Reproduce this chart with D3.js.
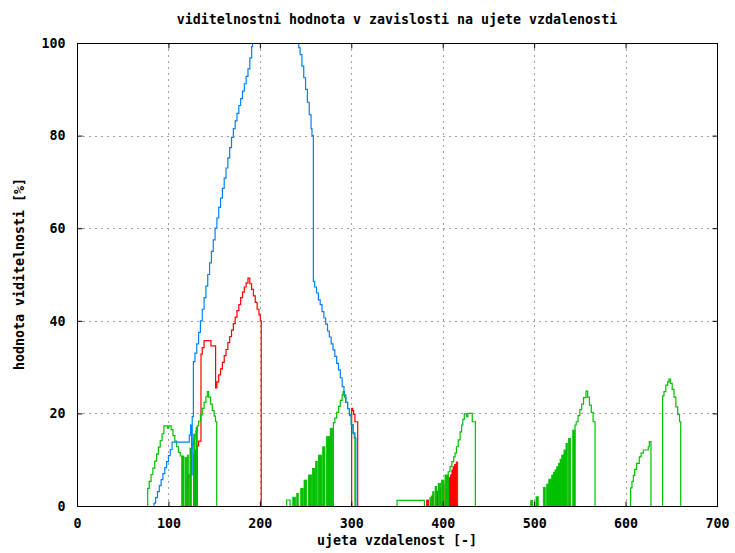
<!DOCTYPE html>
<html>
<head>
<meta charset="utf-8">
<script src="https://cdn.jsdelivr.net/npm/d3@7/dist/d3.min.js"></script>
<style>
    body { margin: 0; background: #ffffff; }
    text { font-family: "DejaVu Sans Mono", monospace; font-weight: bold; font-size: 13.3px; fill: #000; }
</style>
</head>
<body>
<div id="mainDiv"></div>
<script>
// ticks
var xTicks = [ 0, 100, 200, 300, 400, 500, 600, 700 ];
var yTicks = [ 0, 20, 40, 60, 80, 100 ];

// step segments [distance, value], each one rises from 0 at its first x
var redSteps = [
    [ [ 120.5, 5.5 ], [ 121.5, 6.8 ], [ 122.5, 0 ] ],
    [ [ 127.5, 11 ], [ 128.5, 12 ], [ 129.5, 0 ] ],
    [ [ 131.5, 13 ], [ 133, 14 ], [ 135.6, 32.8 ], [ 137, 34.2 ], [ 139, 35.7 ], [ 146.5, 34.6 ], [ 151.6, 25.5 ],
      [ 153, 26.8 ], [ 155, 28.3 ], [ 157, 29.6 ], [ 159, 31 ], [ 161, 32.5 ], [ 163, 33.8 ], [ 165, 35.3 ],
      [ 167, 36.6 ], [ 169, 38 ], [ 171, 39.4 ], [ 173, 40.8 ], [ 175, 42.2 ], [ 177, 43.5 ], [ 179, 45 ],
      [ 181, 46.2 ], [ 183, 47.3 ], [ 185, 48.2 ], [ 187, 49.2 ], [ 189, 48 ], [ 191, 46.8 ], [ 193, 45.4 ],
      [ 195, 44 ], [ 197, 42.5 ], [ 199, 41.3 ], [ 200.5, 40 ], [ 201.5, 0 ] ],
    [ [ 300.4, 21.1 ], [ 301.5, 20.6 ], [ 302.5, 19.8 ], [ 304, 18.2 ], [ 307, 0 ] ]
];
// narrow spikes down to 0 [from, to, value]
var redBars = [
    [ 382.4, 384.6, 1.3 ], [ 388, 389.6, 2.2 ], [ 393, 394.6, 3.2 ], [ 396.5, 398, 3.8 ], [ 400, 401.5, 4.6 ],
    [ 403.5, 405, 5.2 ], [ 406, 407, 5.6 ], [ 407, 408.5, 6.2 ], [ 408.5, 410, 6.7 ], [ 410, 411.3, 7.8 ],
    [ 411.3, 413, 8.5 ], [ 413, 414.7, 9.0 ], [ 414.7, 416.4, 9.5 ]
];

var greenSteps = [
    [ [ 77.3, 3.8 ], [ 79, 5.3 ], [ 81, 6.8 ], [ 83, 8.2 ], [ 85, 9.7 ], [ 87, 11.2 ], [ 89, 12.7 ], [ 91, 14.1 ],
      [ 93, 15.6 ], [ 95, 17.3 ], [ 99, 16.8 ], [ 100.5, 17.3 ], [ 103, 16.5 ], [ 105, 15.2 ], [ 107, 14 ],
      [ 109, 12.8 ], [ 111, 11.6 ], [ 113, 10.8 ], [ 114.8, 0 ] ],
    [ [ 124.5, 12.4 ], [ 126, 13.4 ], [ 127.6, 14.5 ], [ 129, 15.5 ], [ 130.2, 16.3 ], [ 131.6, 17.3 ], [ 133, 18.3 ],
      [ 135, 19.7 ], [ 137, 21.1 ], [ 139, 22.4 ], [ 141, 23.6 ], [ 142.5, 24.7 ], [ 144, 23.5 ], [ 146, 22 ],
      [ 148, 20.6 ], [ 150, 19.4 ], [ 151.5, 18.2 ], [ 152.8, 0 ] ],
    [ [ 229.3, 1.3 ], [ 233, 0 ] ],
    [ [ 280.4, 18 ], [ 282, 19 ], [ 284, 20.2 ], [ 286, 21.5 ], [ 288, 22.8 ], [ 290, 24 ], [ 291, 24.7 ],
      [ 292.5, 23.5 ], [ 294, 22.4 ], [ 296, 21 ], [ 298, 19.5 ], [ 300, 17.5 ], [ 302, 15.6 ], [ 303.3, 14.7 ],
      [ 304, 0 ] ],
    [ [ 350, 1.2 ], [ 380, 0 ] ],
    [ [ 406, 7.4 ], [ 408, 8.5 ], [ 410, 9.6 ], [ 412, 10.6 ], [ 413.5, 11.4 ], [ 415, 12.8 ], [ 417, 14.3 ],
      [ 419, 16 ], [ 420.7, 17.5 ], [ 422, 18.7 ], [ 423.6, 19.9 ], [ 426, 19.3 ], [ 427.5, 20 ], [ 432.3, 18.2 ],
      [ 435.7, 0 ] ],
    [ [ 544.7, 17.5 ], [ 546, 18.2 ], [ 548, 19.5 ], [ 550, 20.8 ], [ 552, 22 ], [ 554, 23.4 ], [ 556.7, 24.8 ],
      [ 558.5, 23.5 ], [ 560.5, 21.8 ], [ 562.5, 20.2 ], [ 564.5, 18.2 ], [ 566.6, 0 ] ],
    [ [ 605.5, 3.9 ], [ 607, 5.3 ], [ 608.5, 6.6 ], [ 610, 7.9 ], [ 612, 9.2 ], [ 615, 10.6 ], [ 617, 11.4 ],
      [ 619.4, 12.1 ], [ 624.8, 12.8 ], [ 626, 13.9 ], [ 627.8, 0 ] ],
    [ [ 640.5, 23.8 ], [ 642, 24.7 ], [ 644, 26.1 ], [ 646, 26.8 ], [ 647.5, 27.4 ], [ 649, 26.5 ], [ 651, 25.2 ],
      [ 653, 23.5 ], [ 655, 21.4 ], [ 657, 19.8 ], [ 659, 18.2 ], [ 660.3, 0 ] ]
];
var greenBars = [
    [ 114.8, 117, 10.8 ], [ 118.2, 119.8, 10.5 ], [ 120.5, 121.8, 11 ], [ 123.5, 125, 12.5 ], [ 127.6, 129, 15.5 ],
    [ 130.2, 131.6, 17 ],
    [ 236, 239, 1.9 ], [ 240.3, 242, 2.7 ], [ 244.7, 247.5, 3.8 ], [ 248.3, 251.2, 5.6 ], [ 253, 256.7, 6.7 ],
    [ 257.4, 260.3, 8.1 ], [ 261, 262.8, 9.6 ], [ 264, 267.6, 11 ], [ 268.7, 271.2, 12.8 ], [ 273, 276.7, 15 ],
    [ 276.9, 279.6, 16.8 ],
    [ 386, 388, 1.9 ], [ 389, 390.5, 3.1 ], [ 391.6, 393.4, 4.2 ], [ 395, 397.7, 4.9 ], [ 398.8, 401.4, 5.6 ],
    [ 402.5, 406, 6.7 ],
    [ 496.2, 498.4, 1.2 ], [ 502, 504.5, 2 ], [ 510, 512.2, 4 ], [ 513.7, 516, 4.75 ], [ 516, 519.2, 5.8 ],
    [ 519.2, 521, 6.7 ], [ 521, 522.8, 7.3 ], [ 522.8, 524.6, 7.8 ], [ 524.6, 526.5, 8.5 ], [ 526.5, 528.3, 9.2 ],
    [ 528.3, 530.1, 10.1 ], [ 530.1, 532.6, 11 ], [ 532.6, 534.8, 12.1 ], [ 534.8, 536.3, 13.5 ],
    [ 537.4, 540, 14.6 ], [ 542.2, 544.7, 16.4 ]
];

var blueSteps = [
    [ [ 84.2, 0.6 ], [ 86, 1.8 ], [ 88, 3.1 ], [ 90, 4.4 ], [ 92, 5.7 ], [ 94, 7 ], [ 96, 8.3 ], [ 98, 9.6 ],
      [ 100, 10.9 ], [ 102, 12.2 ], [ 104, 13.8 ], [ 122.8, 15.3 ], [ 124.3, 17.5 ], [ 125.3, 6.7 ], [ 126, 19.3 ],
      [ 127.3, 31.2 ], [ 129, 33 ], [ 131, 35 ], [ 133, 37.5 ], [ 135, 40 ], [ 137, 42.5 ], [ 139, 45 ],
      [ 141, 47.5 ], [ 143, 50 ], [ 145, 52.5 ], [ 147, 55 ], [ 149, 57.5 ], [ 151, 60 ], [ 153, 62.2 ],
      [ 155, 64.5 ], [ 157, 66.5 ], [ 159, 68.6 ], [ 161, 70.8 ], [ 163, 73 ], [ 165, 75.2 ], [ 167, 77.4 ],
      [ 169, 79.6 ], [ 171, 81.5 ], [ 173, 83.2 ], [ 175, 84.8 ], [ 177, 86.5 ], [ 179, 88 ], [ 181, 89.6 ],
      [ 183, 91.2 ], [ 185, 92.8 ], [ 187, 94.4 ], [ 189, 96.8 ], [ 191, 99.2 ], [ 192, 103 ], [ 242.5, 99 ],
      [ 244, 97.5 ], [ 246, 95 ], [ 248, 92.5 ], [ 250, 90 ], [ 252, 87.2 ], [ 254, 84.5 ], [ 256, 81.5 ],
      [ 257, 80 ], [ 258.5, 48.5 ], [ 260, 47.3 ], [ 262, 46 ], [ 264, 44.5 ], [ 266, 43.5 ], [ 268, 42 ],
      [ 270, 40.6 ], [ 272, 39.3 ], [ 274, 37.8 ], [ 276, 36.5 ], [ 278, 35 ], [ 280, 33.7 ], [ 282, 32.3 ],
      [ 284, 30.8 ], [ 286, 29.4 ], [ 288, 27.7 ], [ 290, 25.8 ], [ 292, 24 ], [ 294, 22.4 ], [ 296, 21 ],
      [ 298, 19.8 ], [ 300, 17.6 ], [ 302, 15.8 ], [ 304, 14.7 ], [ 305, 0 ] ]
];

var VisChart = VisChart || {};

VisChart.main = function () {

    var _width = 735, _height = 553,
        _left = 77, _right = 717, _top = 43, _bottom = 506,
        _svg, _plot,
        _x = d3.scaleLinear().domain( [ 0, 700 ] ).range( [ _left, _right ] ),
        _y = d3.scaleLinear().domain( [ 0, 100 ] ).range( [ _bottom, _top ] ),
        _line = d3.line()
            .x( function ( d ) { return _x( d[ 0 ] ); } )
            .y( function ( d ) { return _y( d[ 1 ] ); } )
            .curve( d3.curveStepAfter ),
        _drawSeries = function ( steps, bars, colour ) {
            _plot.append( 'g' )
                .selectAll( 'rect' )
                .data( bars )
                .enter()
                .append( 'rect' )
                .attr( 'x', function ( d ) { return _x( d[ 0 ] ); } )
                .attr( 'y', function ( d ) { return _y( d[ 2 ] ); } )
                .attr( 'width', function ( d ) { return _x( d[ 1 ] ) - _x( d[ 0 ] ); } )
                .attr( 'height', function ( d ) { return _y( 0 ) - _y( d[ 2 ] ); } )
                .attr( 'fill', colour )
                .attr( 'stroke', colour )
                .attr( 'stroke-width', 0.8 );
            _plot.append( 'g' )
                .selectAll( 'path' )
                .data( steps )
                .enter()
                .append( 'path' )
                .attr( 'd', function ( seg ) { return _line( [ [ seg[ 0 ][ 0 ], 0 ] ].concat( seg ) ); } )
                .attr( 'fill', 'none' )
                .attr( 'stroke', colour )
                .attr( 'stroke-width', 1.2 );
        };

    _svg = d3.select( '#mainDiv' )
        .append( 'svg' )
        .attr( 'width', _width )
        .attr( 'height', _height );

    _svg.append( 'defs' )
        .append( 'clipPath' )
        .attr( 'id', 'plotClip' )
        .append( 'rect' )
        .attr( 'x', _left )
        .attr( 'y', _top )
        .attr( 'width', _right - _left )
        .attr( 'height', _bottom - _top );

    // grid
    var grid = _svg.append( 'g' ).attr( 'stroke', '#a0a0a0' ).attr( 'stroke-width', 1 ).attr( 'stroke-dasharray', '2,4' );
    grid.selectAll( 'line.gx' )
        .data( xTicks.slice( 1, -1 ) )
        .enter()
        .append( 'line' )
        .attr( 'x1', function ( d ) { return Math.round( _x( d ) ) + 0.5; } )
        .attr( 'x2', function ( d ) { return Math.round( _x( d ) ) + 0.5; } )
        .attr( 'y1', _top )
        .attr( 'y2', _bottom );
    grid.selectAll( 'line.gy' )
        .data( yTicks.slice( 1, -1 ) )
        .enter()
        .append( 'line' )
        .attr( 'x1', _left )
        .attr( 'x2', _right )
        .attr( 'y1', function ( d ) { return Math.round( _y( d ) ) + 0.5; } )
        .attr( 'y2', function ( d ) { return Math.round( _y( d ) ) + 0.5; } );

    _plot = _svg.append( 'g' ).attr( 'clip-path', 'url(#plotClip)' );

    _drawSeries( redSteps, redBars, '#ff0000' );
    _drawSeries( greenSteps, greenBars, '#00c000' );
    _drawSeries( blueSteps, [], '#0080ff' );

    // border + inward ticks on all sides
    _svg.append( 'rect' )
        .attr( 'x', _left + 0.5 )
        .attr( 'y', _top + 0.5 )
        .attr( 'width', _right - _left )
        .attr( 'height', _bottom - _top )
        .attr( 'fill', 'none' )
        .attr( 'stroke', '#000' )
        .attr( 'stroke-width', 1 );

    var xAxisB = d3.axisBottom( _x ).tickValues( xTicks ).tickSizeInner( -5 ).tickSizeOuter( 0 ).tickPadding( 12 ),
        xAxisT = d3.axisTop( _x ).tickValues( xTicks ).tickSizeInner( -5 ).tickSizeOuter( 0 ).tickFormat( '' ),
        yAxisL = d3.axisLeft( _y ).tickValues( yTicks ).tickSizeInner( -5 ).tickSizeOuter( 0 ).tickPadding( 12 ),
        yAxisR = d3.axisRight( _y ).tickValues( yTicks ).tickSizeInner( -5 ).tickSizeOuter( 0 ).tickFormat( '' );

    [ [ xAxisB, 'translate(0,' + ( _bottom + 0.5 ) + ')' ],
      [ xAxisT, 'translate(0,' + ( _top + 0.5 ) + ')' ],
      [ yAxisL, 'translate(' + ( _left + 0.5 ) + ',0)' ],
      [ yAxisR, 'translate(' + ( _right + 0.5 ) + ',0)' ] ].forEach( function ( a ) {
        var g = _svg.append( 'g' ).attr( 'transform', a[ 1 ] ).call( a[ 0 ] );
        g.select( '.domain' ).remove();
        g.selectAll( 'line' ).attr( 'stroke', '#000' );
        g.selectAll( 'text' ).attr( 'font-family', null ).attr( 'font-size', null ).attr( 'fill', '#000' );
    } );

    // titles
    _svg.append( 'text' )
        .attr( 'x', 397 )
        .attr( 'y', 24 )
        .attr( 'text-anchor', 'middle' )
        .text( 'viditelnostni hodnota v zavislosti na ujete vzdalenosti' );
    _svg.append( 'text' )
        .attr( 'x', 397 )
        .attr( 'y', 545 )
        .attr( 'text-anchor', 'middle' )
        .text( 'ujeta vzdalenost [-]' );
    _svg.append( 'text' )
        .attr( 'transform', 'translate(24,274) rotate(-90)' )
        .attr( 'text-anchor', 'middle' )
        .text( 'hodnota viditelnosti [%]' );
}();
</script>
</body>
</html>
